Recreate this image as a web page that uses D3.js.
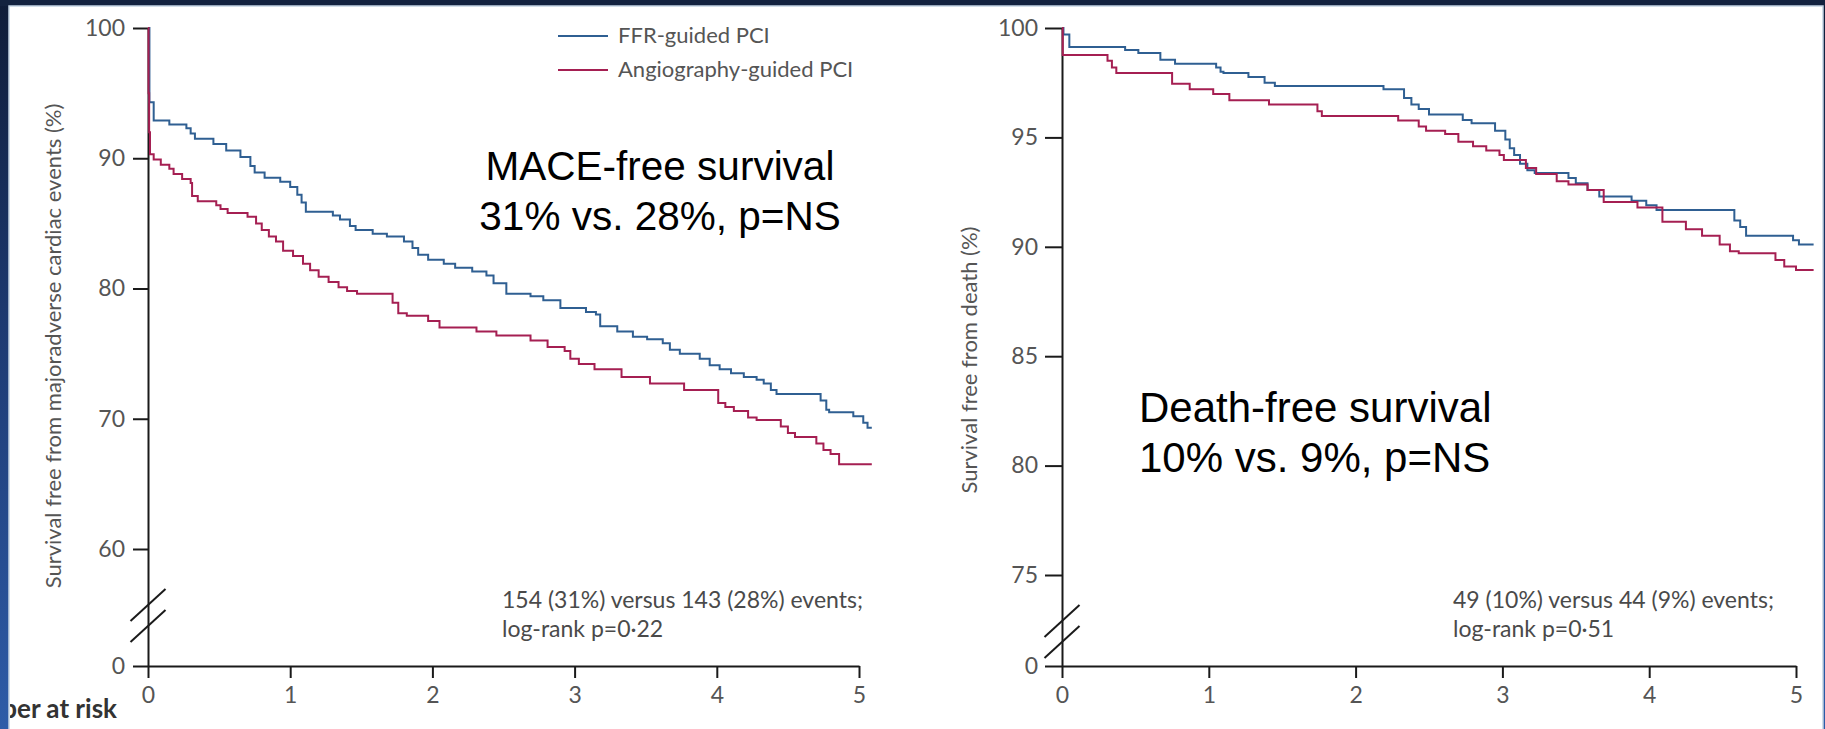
<!DOCTYPE html>
<html>
<head>
<meta charset="utf-8">
<script src="https://cdn.jsdelivr.net/npm/d3@7"></script>
<style>
  html, body { margin: 0; padding: 0; background: #12223f; overflow: hidden; }
  svg { display: block; }
</style>
</head>
<body>
<svg id="chart" width="1825" height="729"></svg>
<script>
// ---- data -------------------------------------------------------------
const years = [0, 1, 2, 3, 4, 5];
const maceTicks = [0, 60, 70, 80, 90, 100];
const deathTicks = [0, 75, 80, 85, 90, 95, 100];
const seriesNames = ["FFR-guided PCI", "Angiography-guided PCI"];

// Kaplan-Meier steps: [years, survival %]
const maceFFR = [[0,100],[0.01,94.3],[0.04,92.9],[0.15,92.6],[0.27,92.3],[0.30,91.9],[0.33,91.5],[0.46,91.1],
  [0.55,90.6],[0.65,90.1],[0.72,89.4],[0.75,88.9],[0.82,88.5],[0.93,88.2],[1.00,87.8],[1.05,87.2],[1.08,86.6],
  [1.11,85.9],[1.30,85.6],[1.35,85.3],[1.42,84.8],[1.46,84.5],[1.58,84.2],[1.68,84.0],[1.80,83.6],[1.86,83.1],
  [1.90,82.6],[1.97,82.2],[2.08,81.9],[2.16,81.6],[2.28,81.3],[2.38,81.0],[2.43,80.4],[2.52,79.6],[2.69,79.4],
  [2.78,79.1],[2.90,78.5],[3.08,78.2],[3.15,78.0],[3.18,77.1],[3.30,76.7],[3.41,76.3],[3.51,76.1],[3.62,75.8],
  [3.67,75.3],[3.74,75.0],[3.88,74.6],[3.95,74.1],[4.02,73.8],[4.10,73.5],[4.19,73.2],[4.28,73.0],[4.33,72.7],
  [4.38,72.2],[4.42,71.9],[4.73,71.4],[4.77,70.7],[4.79,70.5],[4.96,70.2],[5.03,69.7],[5.06,69.3],[5.09,69.3]];
const maceAngio = [[0,100],[0.004,95.0],[0.008,92.0],[0.014,90.3],[0.04,89.9],[0.09,89.5],[0.15,89.2],[0.18,88.8],
  [0.24,88.4],[0.30,88.1],[0.31,87.1],[0.35,86.7],[0.48,86.4],[0.51,86.1],[0.56,85.8],[0.70,85.5],[0.76,85.0],
  [0.80,84.5],[0.85,84.0],[0.90,83.6],[0.95,82.9],[1.02,82.5],[1.09,81.9],[1.14,81.4],[1.20,80.9],[1.27,80.5],
  [1.34,80.1],[1.40,79.8],[1.47,79.6],[1.72,78.9],[1.76,78.1],[1.82,77.9],[1.97,77.5],[2.05,77.0],[2.31,76.7],
  [2.45,76.4],[2.69,76.0],[2.81,75.5],[2.93,75.2],[2.97,74.6],[3.03,74.2],[3.14,73.8],[3.33,73.2],[3.53,72.7],
  [3.77,72.2],[4.01,71.2],[4.06,70.9],[4.12,70.6],[4.22,70.1],[4.28,69.9],[4.45,69.4],[4.50,68.9],[4.55,68.6],
  [4.70,68.1],[4.75,67.6],[4.80,67.3],[4.86,66.5],[5.09,66.5]];
const deathFFR = [[0,100],[0.01,99.7],[0.05,99.13],[0.43,99.0],[0.52,98.86],[0.67,98.55],[0.77,98.37],[1.05,98.2],
  [1.08,98.0],[1.10,97.94],[1.27,97.76],[1.38,97.5],[1.45,97.35],[2.19,97.2],[2.33,96.8],[2.38,96.5],[2.43,96.3],
  [2.50,96.05],[2.73,95.8],[2.79,95.65],[2.95,95.3],[3.02,94.9],[3.05,94.5],[3.08,94.2],[3.12,93.8],[3.17,93.5],
  [3.22,93.37],[3.45,93.15],[3.50,92.9],[3.58,92.6],[3.66,92.3],[3.88,92.1],[3.98,91.9],[4.05,91.68],[4.58,91.2],
  [4.62,90.9],[4.66,90.5],[4.98,90.3],[5.02,90.1],[5.12,90.1]];
const deathAngio = [[0,100],[0.005,98.77],[0.31,98.5],[0.34,98.2],[0.37,97.94],[0.75,97.45],[0.87,97.2],[1.03,96.98],
  [1.14,96.7],[1.41,96.5],[1.74,96.2],[1.77,95.98],[2.29,95.77],[2.43,95.5],[2.48,95.3],[2.61,95.15],[2.70,94.8],
  [2.80,94.6],[2.89,94.4],[2.98,94.2],[3.01,93.97],[3.16,93.6],[3.23,93.33],[3.37,93.0],[3.45,92.85],[3.58,92.6],
  [3.69,92.05],[3.92,91.8],[4.09,91.15],[4.25,90.8],[4.36,90.5],[4.48,90.1],[4.55,89.8],[4.61,89.7],[4.86,89.4],
  [4.92,89.1],[5.00,88.94],[5.12,88.94]];

// ---- page frame ---------------------------------------------------------
const W = 1825, H = 729;
const svg = d3.select("#chart");
const defs = svg.append("defs");
const grad = defs.append("linearGradient").attr("id", "frameGrad")
  .attr("x1", 0).attr("y1", 0).attr("x2", 0).attr("y2", 1);
grad.append("stop").attr("offset", "0%").attr("stop-color", "#0f1c38");
grad.append("stop").attr("offset", "45%").attr("stop-color", "#1d3a72");
grad.append("stop").attr("offset", "100%").attr("stop-color", "#2e5ca8");
defs.append("clipPath").attr("id", "paper")
  .append("rect").attr("x", 10).attr("y", 6).attr("width", W - 12).attr("height", H - 6);

svg.append("rect").attr("width", W).attr("height", H).attr("fill", "url(#frameGrad)");
svg.append("rect").attr("width", W).attr("height", 6).attr("fill", "#13223f");
svg.append("rect").attr("x", 9).attr("y", 6).attr("width", W - 11).attr("height", H - 5)
  .attr("fill", "#ffffff").attr("stroke", "#c3d3e3").attr("stroke-width", 1.5);

const colors = { ffr: "#2f5f92", angio: "#a51f52" };
const tickFont = "Lato, 'Open Sans', sans-serif";
const bigFont = "'Liberation Sans', Arial, sans-serif";

// ---- one Kaplan-Meier panel ------------------------------------------------
function drawPanel(p) {
  const g = svg.append("g");
  const x = d3.scaleLinear().domain([0, 5]).range([p.x0, p.x1]);
  // broken y scale: 0 at the bottom, the low tick region stretched above the break
  const slope = (p.lowPx - 28) / (100 - p.lowTick);
  const brk = p.lowTick - p.gapPx / slope;
  const y = d3.scaleLinear().domain([0, brk, 100]).range([666, p.lowPx + p.gapPx, 28]);

  const line = d3.line().x(d => x(d[0])).y(d => y(d[1])).curve(d3.curveStepAfter);

  // axes
  const gx = g.append("g").attr("transform", `translate(0,${y(0)})`)
    .call(d3.axisBottom(x).tickValues(years).tickFormat(d3.format("d"))
      .tickSize(12).tickSizeOuter(0).tickPadding(9));
  const gy = g.append("g").attr("transform", `translate(${x(0)},0)`)
    .call(d3.axisLeft(y).tickValues(p.ticks).tickFormat(d3.format("d"))
      .tickSize(p.tickLen).tickSizeOuter(0).tickPadding(p.tickPad));
  [gx, gy].forEach(a => {
    a.select(".domain").attr("stroke", "#1a1a1a").attr("stroke-width", 2);
    a.selectAll(".tick line").attr("stroke", "#1a1a1a").attr("stroke-width", 2);
    a.selectAll(".tick text").attr("fill", "#555").style("font-family", tickFont).style("font-size", "23px");
  });

  // axis break marks
  const bx = x(0), by = p.lowPx + p.gapPx;
  [-9, 12].forEach(off => {
    g.append("line")
      .attr("x1", bx - 17.5).attr("y1", by + off + 16)
      .attr("x2", bx + 17.5).attr("y2", by + off - 16)
      .attr("stroke", "#1a1a1a").attr("stroke-width", 2);
  });

  // y axis title
  g.append("text")
    .attr("transform", `translate(${p.titleX},${p.titleY}) rotate(-90)`)
    .attr("text-anchor", "middle").attr("dominant-baseline", "central")
    .attr("fill", "#555").style("font-family", tickFont).style("font-size", "22px")
    .text(p.yTitle);

  // survival curves
  [[p.ffr, colors.ffr], [p.angio, colors.angio]].forEach(([data, c]) => {
    g.append("path").datum(data).attr("d", line)
      .attr("fill", "none").attr("stroke", c).attr("stroke-width", 2);
  });

  // event summary
  const st = g.append("text").attr("fill", "#4a4a4a")
    .style("font-family", tickFont).style("font-size", "23px");
  p.summary.forEach((s, i) => {
    st.append("tspan").attr("x", p.sumX).attr("y", 608 + i * 29).text(s);
  });

  // big headline
  const ht = g.append("text").attr("fill", "#000").attr("text-anchor", p.headAnchor)
    .style("font-family", bigFont).style("font-size", p.headSize + "px");
  p.headline.forEach((s, i) => {
    ht.append("tspan").attr("x", p.headX).attr("y", p.headY + i * 50).text(s);
  });
  return g;
}

drawPanel({
  x0: 148, x1: 859, lowTick: 60, lowPx: 549, gapPx: 65, ticks: maceTicks,
  tickLen: 15, tickPad: 8, ffr: maceFFR, angio: maceAngio,
  yTitle: "Survival free from majoradverse cardiac events (%)", titleX: 52, titleY: 346,
  summary: ["154 (31%) versus 143 (28%) events;", "log-rank p=0·22"], sumX: 502,
  headline: ["MACE-free survival", "31% vs. 28%, p=NS"], headAnchor: "middle",
  headX: 660, headY: 180, headSize: 40.5
});

drawPanel({
  x0: 1062, x1: 1796, lowTick: 75, lowPx: 575, gapPx: 55, ticks: deathTicks,
  tickLen: 17, tickPad: 7, ffr: deathFFR, angio: deathAngio,
  yTitle: "Survival free from death (%)", titleX: 968, titleY: 360,
  summary: ["49 (10%) versus 44 (9%) events;", "log-rank p=0·51"], sumX: 1453,
  headline: ["Death-free survival", "10% vs. 9%, p=NS"], headAnchor: "start",
  headX: 1139, headY: 422, headSize: 42
});

// ---- legend ----------------------------------------------------------------
const legend = svg.append("g");
[colors.ffr, colors.angio].forEach((c, i) => {
  const ly = 36 + i * 34;
  legend.append("line").attr("x1", 558).attr("x2", 608).attr("y1", ly).attr("y2", ly)
    .attr("stroke", c).attr("stroke-width", 2);
  legend.append("text").attr("x", 618).attr("y", ly + 7)
    .attr("fill", "#555").style("font-family", tickFont).style("font-size", "22px")
    .text(seriesNames[i]);
});

// ---- risk table heading (runs off the left edge of the page) -------------
svg.append("text").attr("clip-path", "url(#paper)")
  .attr("x", 117).attr("y", 718).attr("text-anchor", "end")
  .attr("fill", "#333").style("font-family", tickFont).style("font-weight", "bold").style("font-size", "26px")
  .text("Number at risk");
</script>
</body>
</html>
